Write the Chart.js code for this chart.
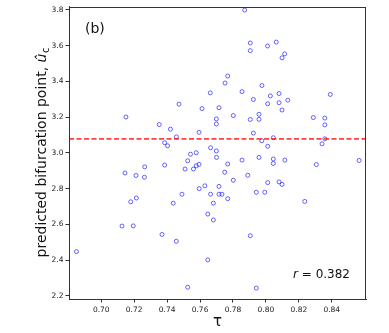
<!DOCTYPE html>
<html>
<head>
<meta charset="utf-8">
<script src="https://cdn.jsdelivr.net/npm/chart.js@4"></script>
<style>
  html, body { margin: 0; padding: 0; background: #fff; }
</style>
</head>
<body>
<canvas id="grafico" width="389" height="333"></canvas>
<script>
// datos (b)
const tau = [
  0.6849, 0.7126, 0.7144, 0.7150, 0.7179, 0.7194, 0.7211, 0.7213, 0.7264, 0.7262,
  0.7352, 0.7369, 0.7385, 0.7385, 0.7403, 0.7420, 0.7437, 0.7456, 0.7456, 0.7472,
  0.7490, 0.7509, 0.7525, 0.7525, 0.7542, 0.7560, 0.7577, 0.7577, 0.7594, 0.7594,
  0.7595, 0.7612, 0.7629, 0.7647, 0.7647, 0.7662, 0.7664, 0.7664, 0.7681, 0.7681,
  0.7699, 0.7699, 0.7699, 0.7700, 0.7715, 0.7715, 0.7715, 0.7733, 0.7750, 0.7752,
  0.7768, 0.7768, 0.7768, 0.7802, 0.7802, 0.7855, 0.7855, 0.7871, 0.7890, 0.7905,
  0.7905, 0.7905, 0.7905, 0.7924, 0.7924, 0.7942, 0.7942, 0.7958, 0.7958, 0.7958,
  0.7975, 0.7976, 0.7993, 0.8010, 0.8011, 0.8011, 0.8011, 0.8027, 0.8045, 0.8045,
  0.8045, 0.8063, 0.8080, 0.8080, 0.8080, 0.8098, 0.8098, 0.8098, 0.8114, 0.8115,
  0.8133, 0.8236, 0.8288, 0.8306, 0.8341, 0.8358, 0.8358, 0.8358, 0.8391, 0.8566
];
const uc = [
  2.448, 2.591, 2.888, 3.201, 2.727, 2.592, 2.874, 2.748, 2.922, 2.864,
  3.159, 2.544, 2.932, 3.057, 3.040, 3.133, 2.719, 3.090, 2.506, 3.273,
  2.769, 2.910, 2.956, 2.249, 2.993, 2.910, 2.928, 3.001, 2.936, 3.115,
  2.800, 3.248, 2.816, 2.658, 2.402, 3.336, 3.029, 2.769, 2.719, 2.625,
  3.190, 3.162, 3.011, 2.975, 3.253, 2.813, 2.769, 2.769, 2.892, 3.391,
  3.430, 2.938, 2.744, 3.209, 2.847, 3.343, 2.960, 3.799, 2.875, 3.615,
  3.572, 3.187, 2.537, 3.299, 3.111, 2.780, 2.244, 3.216, 3.188, 2.975,
  3.068, 3.377, 2.780, 3.598, 3.275, 3.037, 2.834, 3.319, 3.085, 2.966,
  2.941, 3.620, 3.332, 3.281, 2.838, 3.532, 3.240, 2.824, 3.554, 2.960,
  3.295, 2.729, 3.198, 2.935, 3.051, 3.195, 3.157, 3.079, 3.327, 2.958
];
const ucMedia = 3.079;
const rTexto = "r";
const rValor = " = 0.382";

const xMin = 0.6804, xMax = 0.8608;
const yMin = 2.183, yMax = 3.819;
const xTicks = [0.70, 0.72, 0.74, 0.76, 0.78, 0.80, 0.82, 0.84];
const yTicks = [2.2, 2.4, 2.6, 2.8, 3.0, 3.2, 3.4, 3.6, 3.8];

const puntos = tau.map((t, i) => ({ x: t, y: uc[i] }));
const fuente = "'DejaVu Sans', sans-serif";

// marco, etiqueta (b), r y título del eje y
const decorado = {
  id: "decorado",
  afterDraw(chart) {
    const { ctx, chartArea: a } = chart;
    ctx.save();
    ctx.strokeStyle = "#333";
    ctx.lineWidth = 1;
    ctx.strokeRect(Math.round(a.left) + 0.5, Math.round(a.top) + 0.5,
      Math.round(a.right - a.left) - 1, Math.round(a.bottom - a.top) - 1);

    ctx.fillStyle = "#111";
    ctx.textBaseline = "middle";
    ctx.textAlign = "left";
    ctx.font = "14px " + fuente;
    ctx.fillText("(b)", a.left + 16, a.top + 23);

    // r = 0.382
    ctx.font = "italic 12px " + fuente;
    const w1 = ctx.measureText(rTexto).width;
    ctx.font = "12px " + fuente;
    const w2 = ctx.measureText(rValor).width;
    const x0 = a.right - 16 - w1 - w2;
    const yb = a.bottom - 24;
    ctx.font = "italic 12px " + fuente;
    ctx.fillText(rTexto, x0, yb);
    ctx.font = "12px " + fuente;
    ctx.fillText(rValor, x0 + w1, yb);

    // título del eje y con subíndice
    const t1 = "predicted bifurcation point, ";
    const t2 = "û";
    const t3 = "c";
    ctx.font = "14px " + fuente;
    const a1 = ctx.measureText(t1).width;
    ctx.font = "italic 14px " + fuente;
    const a2 = ctx.measureText(t2).width;
    ctx.font = "10px " + fuente;
    const a3 = ctx.measureText(t3).width;
    const total = a1 + a2 + a3;
    ctx.translate(42, (a.top + a.bottom) / 2);
    ctx.rotate(-Math.PI / 2);
    ctx.textBaseline = "middle";
    let px = -total / 2;
    ctx.font = "14px " + fuente;
    ctx.fillText(t1, px, 0);
    px += a1;
    ctx.font = "italic 14px " + fuente;
    ctx.fillText(t2, px, 0);
    px += a2;
    ctx.font = "10px " + fuente;
    ctx.fillText(t3, px + 0.5, 4);
    ctx.restore();
  }
};

let ctx1 = document.getElementById("grafico").getContext("2d");
let graf = new Chart(ctx1, {
  type: "scatter",
  data: {
    datasets: [
      {
        type: "line",
        label: "media",
        data: [{ x: xMin, y: ucMedia }, { x: xMax, y: ucMedia }],
        borderColor: "rgba(255,0,0,0.75)",
        borderWidth: 1.8,
        borderDash: [5, 2.5],
        pointRadius: 0,
        fill: false,
      },
      {
        label: "datos",
        data: puntos,
        pointRadius: 2,
        pointBorderWidth: 1,
        borderColor: "rgba(0,0,255,0.6)",
        backgroundColor: "rgba(0,0,0,0)",
        pointBackgroundColor: "rgba(0,0,0,0)",
      },
    ],
  },
  options: {
    responsive: false,
    animation: false,
    devicePixelRatio: 1,
    layout: { padding: { left: 0, right: 23, top: 3, bottom: 0 } },
    plugins: {
      legend: { display: false },
      tooltip: { enabled: false },
    },
    scales: {
      x: {
        type: "linear",
        min: xMin,
        max: xMax,
        afterBuildTicks: (s) => { s.ticks = xTicks.map((v) => ({ value: v })); },
        afterFit: (s) => { s.height = 34; },
        ticks: {
          color: "#222",
          padding: 3,
          font: { family: fuente, size: 7.5 },
          callback: (v) => Number(v).toFixed(2),
        },
        grid: { display: true, drawOnChartArea: false, drawTicks: true, tickLength: 3.5, color: "#333" },
        border: { display: true, color: "#333" },
        title: {
          display: true,
          text: "τ",
          color: "#111",
          font: { family: fuente, size: 15 },
          padding: { top: 0, bottom: 2 },
        },
      },
      y: {
        type: "linear",
        min: yMin,
        max: yMax,
        afterBuildTicks: (s) => { s.ticks = yTicks.map((v) => ({ value: v })); },
        afterFit: (s) => { s.width = 69; },
        ticks: {
          color: "#222",
          padding: 2,
          font: { family: fuente, size: 7.5 },
          callback: (v) => Number(v).toFixed(1),
        },
        grid: { display: true, drawOnChartArea: false, drawTicks: true, tickLength: 3.5, color: "#333" },
        border: { display: true, color: "#333" },
      },
    },
  },
  plugins: [decorado],
});
</script>
</body>
</html>
